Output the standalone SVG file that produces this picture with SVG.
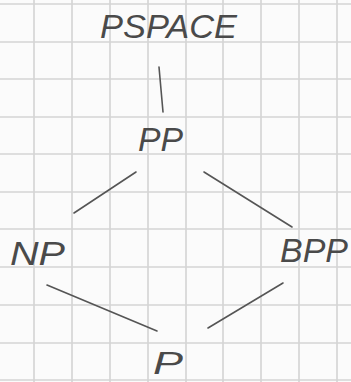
<svg xmlns="http://www.w3.org/2000/svg" width="351" height="382" viewBox="0 0 351 382">
<style>
.grid line{stroke:#d4d4d4;stroke-width:1.6}
.lbl{font-family:"Liberation Sans",Arial,sans-serif;font-style:italic;fill:#4a4a4a;font-size:34px}
.edges line{stroke:#555;stroke-width:1.6;stroke-linecap:round}
</style>
<rect width="351" height="382" fill="#fbfbfb"/>
<g class="grid">
<line x1="34" y1="0" x2="34" y2="382"/>
<line x1="72" y1="0" x2="72" y2="382"/>
<line x1="110" y1="0" x2="110" y2="382"/>
<line x1="148" y1="0" x2="148" y2="382"/>
<line x1="186" y1="0" x2="186" y2="382"/>
<line x1="223" y1="0" x2="223" y2="382"/>
<line x1="261" y1="0" x2="261" y2="382"/>
<line x1="299" y1="0" x2="299" y2="382"/>
<line x1="337" y1="0" x2="337" y2="382"/>
<line x1="0" y1="4" x2="351" y2="4"/>
<line x1="0" y1="42" x2="351" y2="42"/>
<line x1="0" y1="79" x2="351" y2="79"/>
<line x1="0" y1="117" x2="351" y2="117"/>
<line x1="0" y1="154" x2="351" y2="154"/>
<line x1="0" y1="192" x2="351" y2="192"/>
<line x1="0" y1="229" x2="351" y2="229"/>
<line x1="0" y1="267" x2="351" y2="267"/>
<line x1="0" y1="305" x2="351" y2="305"/>
<line x1="0" y1="343" x2="351" y2="343"/>
<line x1="0" y1="380" x2="351" y2="380"/>
</g>
<g class="edges">
<line x1="159" y1="67" x2="163" y2="112"/>
<line x1="136" y1="172" x2="74" y2="213"/>
<line x1="204" y1="172" x2="292" y2="227"/>
<line x1="47" y1="285" x2="157" y2="331"/>
<line x1="283" y1="283" x2="208" y2="328"/>
</g>
<g id="pspace"><text class="lbl" x="100" y="38" textLength="137" lengthAdjust="spacingAndGlyphs">PSPACE</text></g>
<g id="pp"><text class="lbl" x="138" y="151" textLength="45" lengthAdjust="spacingAndGlyphs">PP</text></g>
<g id="np"><text class="lbl" x="10" y="265" textLength="55" lengthAdjust="spacingAndGlyphs">NP</text></g>
<g id="bpp"><text class="lbl" x="280" y="262" textLength="68" lengthAdjust="spacingAndGlyphs">BPP</text></g>
<g id="p"><text class="lbl" x="153" y="374" style="font-size:32px" textLength="30" lengthAdjust="spacingAndGlyphs">P</text></g>
</svg>
